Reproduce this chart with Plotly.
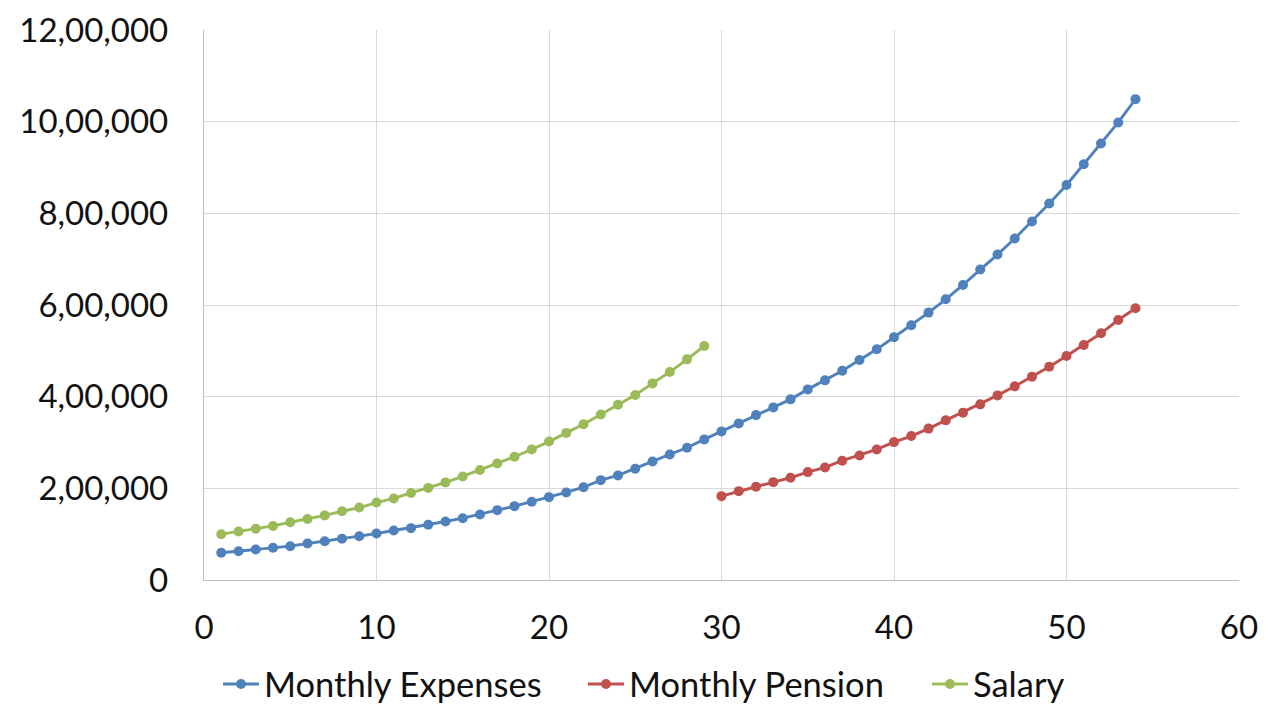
import plotly.graph_objects as go

years_expenses = list(range(1, 55))
monthly_expenses = [
    59400, 62900, 66600, 70300, 73800, 79700, 84700, 90000, 95600, 101500,
    108100, 113100, 120500, 127700, 134900, 143000, 152400, 161100, 170700, 180800,
    191000, 202400, 217900, 228200, 242800, 258700, 274000, 288600, 306800, 324200,
    341700, 359800, 376600, 394100, 415900, 435600, 456700, 479900, 503300, 529500,
    556000, 583400, 612400, 643700, 677300, 710000, 745000, 782100, 821400, 862000,
    907200, 952400, 998300, 1049100,
]

years_pension = list(range(30, 55))
monthly_pension = [
    183000, 193900, 203500, 213500, 223100, 235400, 245600, 260300, 271800, 284900,
    300900, 314000, 330300, 348300, 365100, 383200, 402800, 422500, 443700, 465500,
    488600, 512700, 538200, 567200, 592800,
]

years_salary = list(range(1, 30))
salary = [
    100000, 106000, 112000, 118000, 126000, 133000, 141000, 150000, 158000, 169000,
    178000, 190000, 201000, 213000, 226000, 240000, 254000, 269000, 285000, 302000,
    321000, 340000, 361000, 382500, 403500, 429000, 453700, 481400, 510500,
]

y_tick_vals = [0, 200000, 400000, 600000, 800000, 1000000, 1200000]
y_tick_text = ["0", "2,00,000", "4,00,000", "6,00,000", "8,00,000", "10,00,000", "12,00,000"]
x_tick_vals = [0, 10, 20, 30, 40, 50, 60]

series = [
    ("Monthly Expenses", years_expenses, monthly_expenses, "#4F81BD", "legend"),
    ("Monthly Pension", years_pension, monthly_pension, "#C0504D", "legend2"),
    ("Salary", years_salary, salary, "#9BBB59", "legend3"),
]
legend_x_px = [218, 583, 927]

FONT = "Lato, 'Open Sans', sans-serif"
FONT_SIZE = 33
LEGEND_FONT_SIZE = 34.5
TXT = "#111111"

fig = go.Figure()
for name, xs, ys, color, leg in series:
    fig.add_trace(go.Scatter(
        x=xs, y=ys, name=name, mode="lines+markers",
        line=dict(color=color, width=2.9),
        marker=dict(color=color, size=10, symbol="circle"),
        legend=leg,
    ))

W, H, OFF = 1280, 720, 8

def legend_cfg(px):
    return dict(
        orientation="h", xref="container", yref="container",
        x=(px - OFF) / W, xanchor="left", y=1 - (684 - OFF) / H, yanchor="middle",
        font=dict(family=FONT, size=LEGEND_FONT_SIZE, color=TXT),
        itemwidth=36, bgcolor="rgba(0,0,0,0)", borderwidth=0,
    )

fig.update_layout(
    width=W, height=H,
    margin=dict(l=204 - OFF, r=41 + OFF, t=30 - OFF, b=140 + OFF, pad=0, autoexpand=False),
    paper_bgcolor="white", plot_bgcolor="white",
    font=dict(family=FONT, size=FONT_SIZE, color=TXT),
    showlegend=True,
    legend=legend_cfg(legend_x_px[0]),
    legend2=legend_cfg(legend_x_px[1]),
    legend3=legend_cfg(legend_x_px[2]),
    xaxis=dict(
        range=[0, 60], tickvals=x_tick_vals, showgrid=True, automargin=False,
        gridcolor="#d9d9d9", gridwidth=1.3,
        showline=True, linecolor="#bfbfbf", linewidth=1.3,
        zeroline=False, ticks="outside", ticklen=18, tickcolor="rgba(0,0,0,0)",
        tickfont=dict(family=FONT, size=FONT_SIZE, color=TXT),
    ),
    yaxis=dict(
        range=[0, 1200000], tickvals=y_tick_vals, ticktext=y_tick_text,
        showgrid=True, automargin=False, gridcolor="#d9d9d9", gridwidth=1.3,
        showline=True, linecolor="#bfbfbf", linewidth=1.3,
        zeroline=False, ticks="outside", ticklen=28, tickcolor="rgba(0,0,0,0)",
        tickfont=dict(family=FONT, size=FONT_SIZE, color=TXT),
    ),
)

fig.write_html("out.html")
